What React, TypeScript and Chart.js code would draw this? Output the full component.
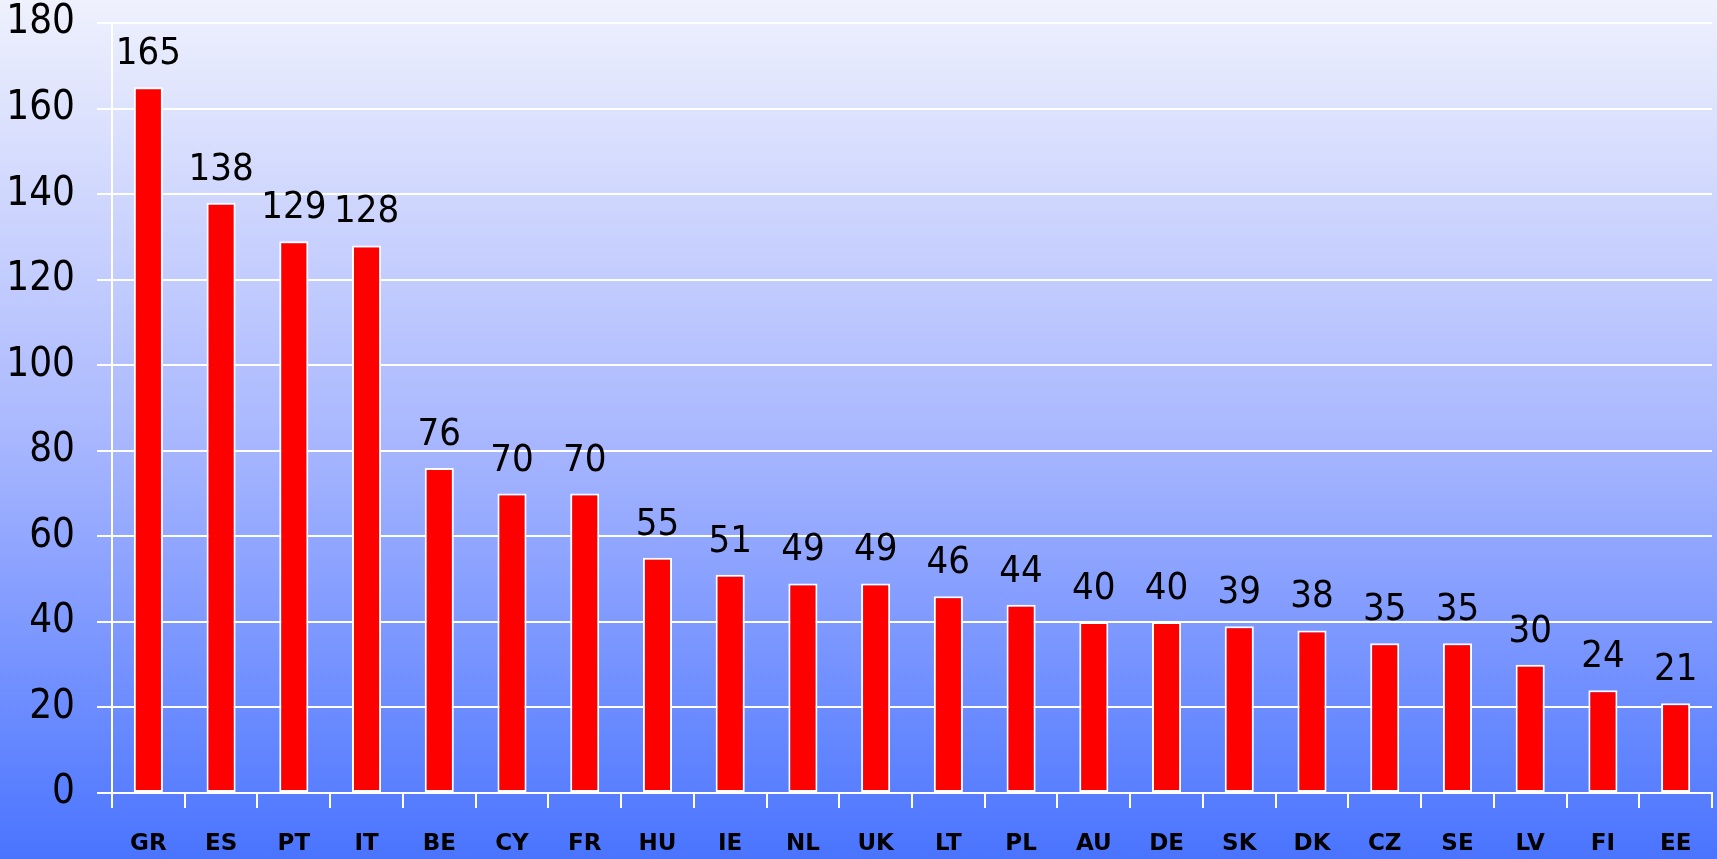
import React, { useEffect, useRef } from "react";
import { Chart, registerables } from "chart.js";

Chart.register(...registerables);

const categories = ["GR", "ES", "PT", "IT", "BE", "CY", "FR", "HU", "IE", "NL", "UK", "LT", "PL", "AU", "DE", "SK", "DK", "CZ", "SE", "LV", "FI", "EE"];
const values = [165, 138, 129, 128, 76, 70, 70, 55, 51, 49, 49, 46, 44, 40, 40, 39, 38, 35, 35, 30, 24, 21];
const yMin = 0;
const yMax = 180;
const yStep = 20;

const W = 1717;
const H = 859;

const bgPlugin = {
  id: "bgGradient",
  beforeDraw(chart: any) {
    const { ctx, width, height } = chart;
    const g = ctx.createLinearGradient(0, 0, 0, height);
    g.addColorStop(0, "#eff1fd");
    g.addColorStop(0.5, "#aab8fe");
    g.addColorStop(1, "#4a74ff");
    ctx.save();
    ctx.fillStyle = g;
    ctx.fillRect(0, 0, width, height);
    ctx.restore();
  },
};

const labelPlugin = {
  id: "valueLabels",
  afterDatasetsDraw(chart: any) {
    const { ctx } = chart;
    const meta = chart.getDatasetMeta(0);
    ctx.save();
    ctx.font = '38px "DejaVu Sans Condensed", "DejaVu Sans", sans-serif';
    ctx.fillStyle = "#000";
    ctx.textAlign = "center";
    ctx.textBaseline = "alphabetic";
    meta.data.forEach((bar: any, i: number) => {
      const { x, y } = bar.getProps(["x", "y"], true);
      ctx.fillText(String(values[i]), x, y - 23);
    });
    ctx.restore();
  },
};

export default function App() {
  const ref = useRef<HTMLCanvasElement | null>(null);

  useEffect(() => {
    if (!ref.current) return;
    const n = categories.length;
    const chart = new Chart(ref.current, {
      type: "bar",
      data: {
        labels: categories,
        datasets: [
          {
            data: values,
            backgroundColor: "#ff0000",
            borderColor: "#ffffff",
            borderWidth: 2,
            borderSkipped: false,
            barPercentage: 0.4,
            categoryPercentage: 1,
          },
        ],
      },
      options: {
        animation: false,
        responsive: false,
        devicePixelRatio: 1,
        layout: { padding: { top: 23, right: 5, left: 0, bottom: 0 } },
        plugins: { legend: { display: false }, tooltip: { enabled: false } },
        scales: {
          x: {
            offset: true,
            grid: {
              display: true,
              offset: true,
              drawOnChartArea: true,
              color: (c: any) => (c.index === 0 || c.index === n ? "#ffffff" : "rgba(0,0,0,0)"),
              tickColor: "#ffffff",
              lineWidth: 2,
              tickLength: 15,
            },
            border: { display: true, color: "#ffffff", width: 2 },
            ticks: {
              color: "#000",
              font: { family: '"DejaVu Sans", sans-serif', size: 23, weight: "bold" },
              padding: 22,
              maxRotation: 0,
              autoSkip: false,
            },
            afterFit: (s: any) => {
              s.height = 66;
              s.paddingLeft = 0;
              s.paddingRight = 0;
            },
          },
          y: {
            min: yMin,
            max: yMax,
            grid: {
              color: "#ffffff",
              lineWidth: 2,
              tickLength: 15,
              tickColor: "#ffffff",
            },
            border: { display: true, color: "#ffffff", width: 2 },
            ticks: {
              stepSize: yStep,
              color: "#000",
              font: { family: '"DejaVu Sans Condensed", "DejaVu Sans", sans-serif', size: 40, lineHeight: 1 },
              padding: 22,
            },
            afterFit: (s: any) => {
              s.width = 112;
              s.paddingTop = 0;
              s.paddingBottom = 0;
            },
          },
        },
      },
      plugins: [bgPlugin, labelPlugin],
    });
    return () => chart.destroy();
  }, []);

  return (
    <div style={{ position: "fixed", left: 0, top: 0, width: W, height: H }}>
      <canvas ref={ref} width={W} height={H} style={{ display: "block", width: W, height: H }} />
    </div>
  );
}
